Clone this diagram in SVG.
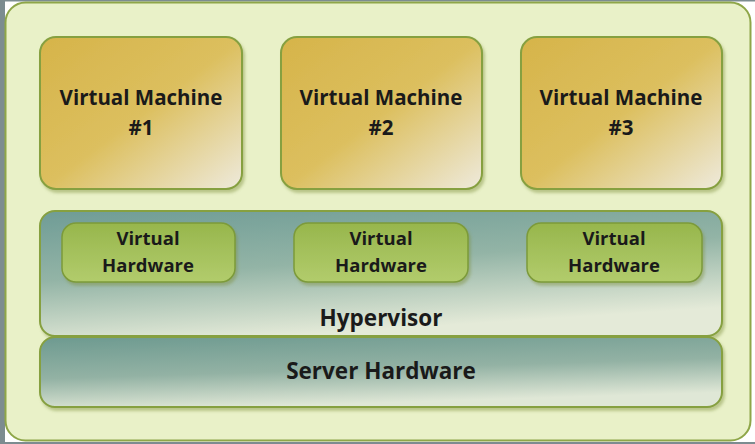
<svg xmlns="http://www.w3.org/2000/svg" width="755" height="444" viewBox="0 0 755 444">
  <defs>
    <linearGradient id="gold" x1="0" y1="0" x2="1" y2="1">
      <stop offset="0" stop-color="#d6b44a"/>
      <stop offset="0.5" stop-color="#dcbf5e"/>
      <stop offset="1" stop-color="#eeeadc"/>
    </linearGradient>
    <linearGradient id="teal" x1="0" y1="0" x2="0.35" y2="1">
      <stop offset="0" stop-color="#6f9c96"/>
      <stop offset="0.5" stop-color="#93b4a6"/>
      <stop offset="1" stop-color="#e4ead8"/>
    </linearGradient>
    <linearGradient id="teal2" x1="0" y1="0" x2="0.3" y2="1">
      <stop offset="0" stop-color="#6d9a90"/>
      <stop offset="0.55" stop-color="#93b2a4"/>
      <stop offset="1" stop-color="#dfe7d6"/>
    </linearGradient>
    <linearGradient id="leaf" x1="0" y1="0" x2="0" y2="1">
      <stop offset="0" stop-color="#97b64c"/>
      <stop offset="1" stop-color="#b2cc6c"/>
    </linearGradient>
    <filter id="shadow" x="-5%" y="-5%" width="112%" height="115%">
      <feGaussianBlur in="SourceAlpha" stdDeviation="1.5"/>
      <feOffset dx="2" dy="3" result="b"/>
      <feFlood flood-color="#7d8f3c" flood-opacity="0.45"/>
      <feComposite in2="b" operator="in"/>
      <feMerge><feMergeNode/><feMergeNode in="SourceGraphic"/></feMerge>
    </filter>
    <style>
      .frame { fill: #e9f1c8; stroke: #8ea648; stroke-width: 2; }
      .vm { fill: url(#gold); stroke: #86a040; stroke-width: 2; filter: url(#shadow); }
      .hyp { fill: url(#teal); stroke: #86a040; stroke-width: 2; filter: url(#shadow); }
      .srv { fill: url(#teal2); stroke: #86a040; stroke-width: 2; filter: url(#shadow); }
      .vh { fill: url(#leaf); stroke: #7c9a3a; stroke-width: 1.5; filter: url(#shadow); }
      text { font-family: "Open Sans", "Liberation Sans", sans-serif; font-weight: 700; fill: #1a1a1a; text-anchor: middle; }
      .big { font-size: 20.5px; }
      .layer { font-size: 22.5px; }
      .small { font-size: 18.5px; }
    </style>
  </defs>

  <!-- page background -->
  <rect x="0" y="0" width="755" height="444" fill="#ffffff"/>
  <rect x="0" y="0" width="5" height="444" fill="#7c8c90"/>
  <rect x="0" y="0" width="755" height="1.5" fill="#7c8c90"/>
  <rect x="0" y="442" width="755" height="2" fill="#7c8c90"/>

  <!-- outer container -->
  <rect class="frame" x="5.5" y="2.5" width="745" height="438" rx="20"/>

  <g id="vm1">
    <rect class="vm" x="40" y="37" width="202" height="152" rx="16"/>
    <text class="big" x="141" y="105">Virtual Machine</text>
    <text class="big" x="141" y="135">#1</text>
  </g>
  <g id="vm2">
    <rect class="vm" x="281" y="37" width="201" height="152" rx="16"/>
    <text class="big" x="381" y="105">Virtual Machine</text>
    <text class="big" x="381" y="135">#2</text>
  </g>
  <g id="vm3">
    <rect class="vm" x="521" y="37" width="201" height="152" rx="16"/>
    <text class="big" x="621" y="105">Virtual Machine</text>
    <text class="big" x="621" y="135">#3</text>
  </g>

  <g id="hypervisor">
    <rect class="hyp" x="40" y="211" width="682" height="125" rx="15"/>
    <text class="layer" x="381" y="326">Hypervisor</text>
  </g>

  <g id="vh1">
    <rect class="vh" x="62" y="223" width="173" height="59" rx="14"/>
    <text class="small" x="148" y="245">Virtual</text>
    <text class="small" x="148" y="272">Hardware</text>
  </g>
  <g id="vh2">
    <rect class="vh" x="294" y="223" width="174" height="59" rx="14"/>
    <text class="small" x="381" y="245">Virtual</text>
    <text class="small" x="381" y="272">Hardware</text>
  </g>
  <g id="vh3">
    <rect class="vh" x="527" y="223" width="175" height="59" rx="14"/>
    <text class="small" x="614" y="245">Virtual</text>
    <text class="small" x="614" y="272">Hardware</text>
  </g>

  <g id="server-hardware">
    <rect class="srv" x="40" y="337" width="682" height="70" rx="15"/>
    <text class="layer" x="381" y="379">Server Hardware</text>
  </g>

  <g id="connectors"></g>
</svg>
